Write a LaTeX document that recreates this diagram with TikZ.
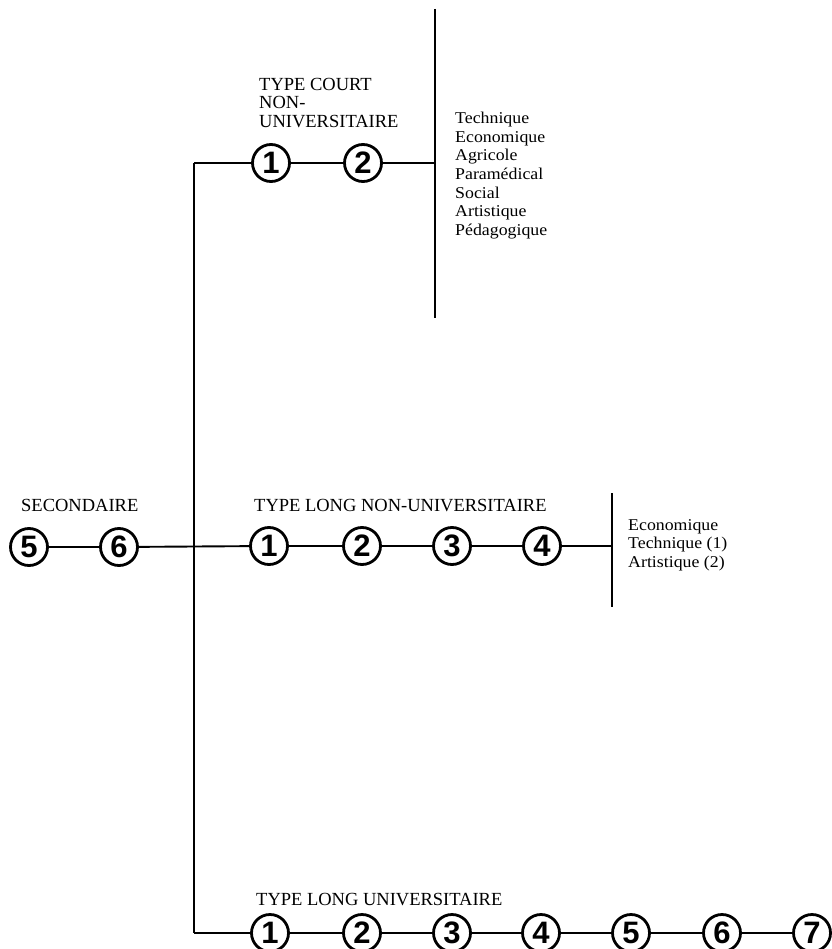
\documentclass[tikz,border=0pt]{standalone}
\usepackage{fontspec}
\setmainfont{Liberation Serif}
\newfontfamily\listfont{Liberation Serif}[FakeStretch=1.08]
\newfontfamily\digitfont{Liberation Sans}
\begin{document}
\begin{tikzpicture}[x=1pt,y=-1pt,
  num/.style={circle,draw,line width=2.8pt,minimum size=37pt,inner sep=0pt,
    font=\digitfont\bfseries\fontsize{31}{31}\selectfont},
  link/.style={line width=1.9pt},
  caption/.style={inner sep=0pt,font=\fontsize{18.5}{18.5}\selectfont},
  captionml/.style={inner sep=0pt,align=left,font=\fontsize{18.5}{18.5}\selectfont},
  listtxt/.style={inner sep=0pt,align=left,font=\listfont\fontsize{16.5}{18.6}\selectfont}]
\useasboundingbox (0,0) rectangle (831,949);
% left
\node[num] (c5) at (29,547) {5};
\node[num] (c6) at (119,547) {6};
\node[caption,anchor=base west] (sec) at (21,511) {SECONDAIRE};
% junctions
\coordinate (jt) at (194,163);
\coordinate (jb) at (194,933);
% top row
\node[num] (t1) at (271,163) {1};
\node[num] (t2) at (363,163) {2};
\coordinate (tr) at (435,163);
\coordinate (trt) at (435,9);
\coordinate (trb) at (435,318);
\node[captionml,anchor=north west] (tcap) at (259,78) {TYPE COURT\\NON-\\UNIVERSITAIRE};
\node[listtxt,anchor=north west] (tlist) at (455,112) {Technique\\Economique\\Agricole\\Paramédical\\Social\\Artistique\\Pédagogique};
% middle row
\node[num] (m1) at (269,546) {1};
\node[num] (m2) at (362,546) {2};
\node[num] (m3) at (452,546) {3};
\node[num] (m4) at (542,546) {4};
\coordinate (mr) at (612,546);
\coordinate (mrt) at (612,493);
\coordinate (mrb) at (612,607);
\node[caption,anchor=base west] (mcap) at (254,511) {TYPE LONG NON-UNIVERSITAIRE};
\node[listtxt,anchor=north west] (mlist) at (628,519) {Economique\\Technique (1)\\Artistique (2)};
% bottom row
\node[num] (b1) at (270,933) {1};
\node[num] (b2) at (362,933) {2};
\node[num] (b3) at (452,933) {3};
\node[num] (b4) at (541,933) {4};
\node[num] (b5) at (631,933) {5};
\node[num] (b6) at (722,933) {6};
\node[num] (b7) at (812,933) {7};
\node[caption,anchor=base west] (bcap) at (256,905) {TYPE LONG UNIVERSITAIRE};
% connectors
\draw[link] (c5) -- (c6);
\draw[link] (c6) -- (m1);
\draw[link] (jt) -- (jb);
\draw[link] (jt) -- (t1);
\draw[link] (t1) -- (t2);
\draw[link] (t2) -- (tr);
\draw[link] (trt) -- (trb);
\draw[link] (m1) -- (m2);
\draw[link] (m2) -- (m3);
\draw[link] (m3) -- (m4);
\draw[link] (m4) -- (mr);
\draw[link] (mrt) -- (mrb);
\draw[link] (jb) -- (b1);
\draw[link] (b1) -- (b2);
\draw[link] (b2) -- (b3);
\draw[link] (b3) -- (b4);
\draw[link] (b4) -- (b5);
\draw[link] (b5) -- (b6);
\draw[link] (b6) -- (b7);
\end{tikzpicture}
\end{document}
